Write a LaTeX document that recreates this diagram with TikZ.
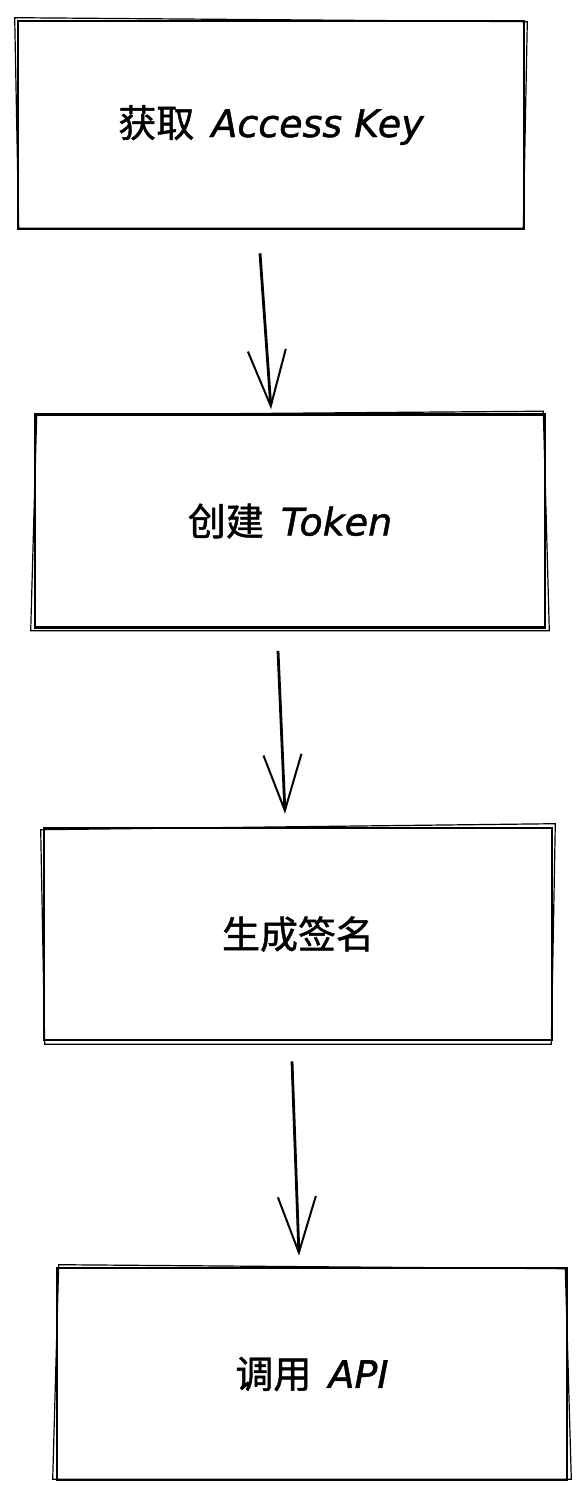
\documentclass[tikz,border=0pt]{standalone}
\usepackage{fontspec}
\newfontfamily\cjk{Noto Sans CJK SC}[FakeBold=1.2]
\newfontfamily\hand{DejaVu Sans}[FakeBold=1.2]
\usetikzlibrary{arrows.meta,calc}
\tikzset{
  stepbox/.style={draw=black, line width=2.6pt, inner sep=0pt, font=\fontsize{38}{46}\selectfont},
  sketch/.style={draw=black, line width=1.2pt},
  flow/.style={draw=black, line width=2.8pt, -{Straight Barb[length=56pt,width=38pt,line width=2pt]}}
}
\begin{document}
\begin{tikzpicture}[x=1pt,y=-1pt]
\useasboundingbox (0,0) rectangle (586,1498);
\node[stepbox, minimum width=506pt, minimum height=208pt] (b1) at (271,125) {\cjk 获取\hspace{0.45em}\hand\itshape Access Key};
\node[stepbox, minimum width=510pt, minimum height=213pt] (b2) at (290,521) {\cjk 创建\hspace{0.45em}\hand\itshape Token};
\node[stepbox, minimum width=508pt, minimum height=212pt] (b3) at (298,934) {\cjk 生成签名};
\node[stepbox, minimum width=510pt, minimum height=212pt] (b4) at (312,1374) {\cjk 调用\hspace{0.45em}\hand\itshape API};
% sketchy second strokes
\foreach \b/\dx/\dy in {b1/2/-2, b2/-3/2, b3/2/3, b4/-3/-2}{
  \draw[sketch] ($(\b.north west)+(-\dx,\dy)$) -- ($(\b.north east)+(\dx,-\dy)$)
    -- ($(\b.south east)+(-\dx,\dy)$) -- ($(\b.south west)+(\dx,\dy)$) -- cycle;
}
\draw[flow] ($(b1.south)+(-11,23)$) -- ($(b2.north)+(-19,-4)$);
\draw[flow] ($(b2.south)+(-12,22)$) -- ($(b3.north)+(-13,-13)$);
\draw[flow] ($(b3.south)+(-6,20)$) -- ($(b4.north)+(-13,-11)$);
\end{tikzpicture}
\end{document}
